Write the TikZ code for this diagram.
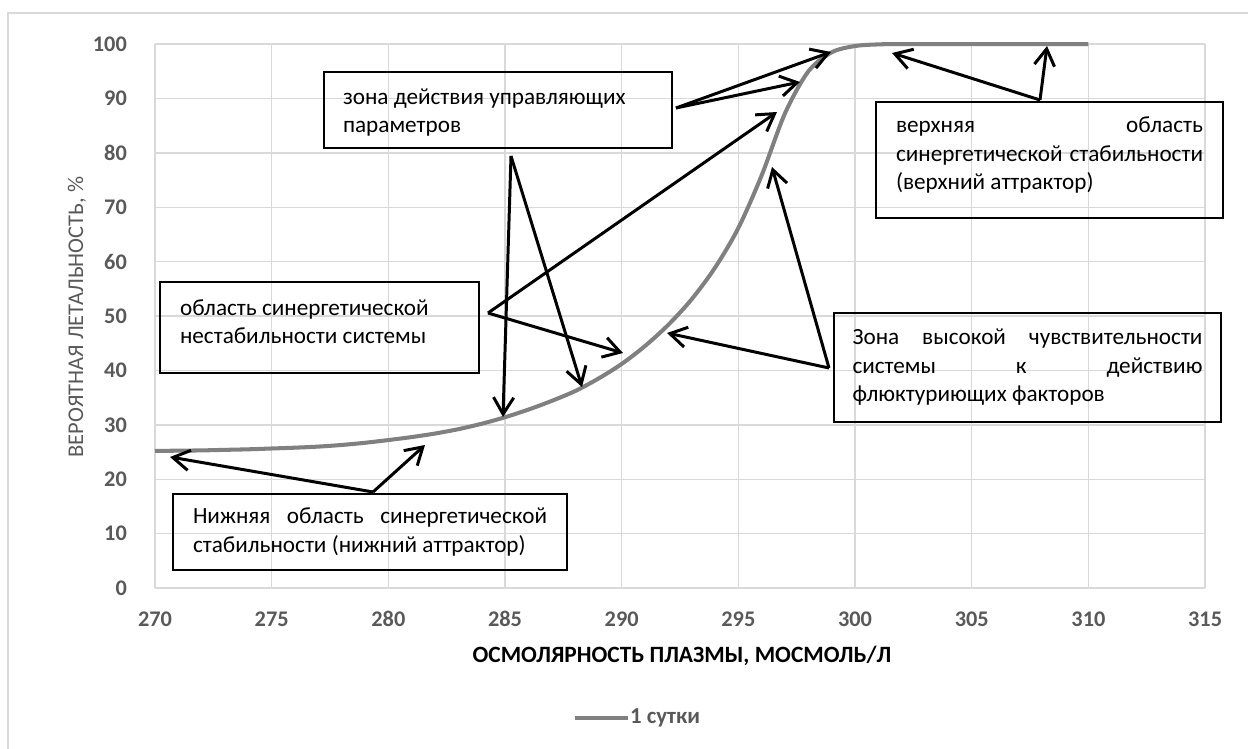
\documentclass[tikz,border=0pt]{standalone}
\usepackage{fontspec}
\setmainfont{Carlito}
\usetikzlibrary{arrows.meta}
\definecolor{gridgray}{HTML}{D9D9D9}
\definecolor{curvegray}{HTML}{808080}
\definecolor{labelgray}{HTML}{595959}
\tikzset{
  gridline/.style={draw=gridgray, line width=0.8pt},
  curve/.style={draw=curvegray, line width=2.3pt},
  box/.style={draw=black, line width=1.4pt},
  boxtext/.style={font=\fontsize{13.2}{16.2}\selectfont, inner sep=0pt, align=flush left},
  pointer/.style={line width=1.7pt, -{Straight Barb[length=9.5pt, width=11.5pt, line width=1.7pt]}},
  ticklabel/.style={font=\fontsize{12.7}{15}\selectfont\bfseries, text=labelgray},
}

\begin{document}
\begin{tikzpicture}[x=0.02cm, y=-0.02cm]
  \useasboundingbox (0,0) rectangle (1248,749);
  \draw[draw=gridgray, line width=1.2pt] (8,749) -- (8,13) -- (1248,13);

  \begin{scope}[shift={(155,588)}, x=0.4668cm, y=0.1088cm]
    \foreach \v in {0,10,...,100} {
      \draw[gridline] (0,\v) -- (45,\v);
      \node[ticklabel, anchor=east] (y\v) at (-0.94,\v) {\v};
    }
    \foreach \u in {0,5,...,45} {
      \pgfmathtruncatemacro{\lbl}{270+\u}
      \draw[gridline] (\u,0) -- (\u,100);
      \node[ticklabel] (x\u) at (\u,-5.7) {\lbl};
    }
    \draw[curve] plot[smooth, tension=0.5] coordinates {(0,25.2) (1,25.25) (2,25.3) (3,25.4) (4,25.5) (5,25.65) (6,25.8) (7,26.0) (8,26.3) (9,26.7) (10,27.2) (11,27.75) (12,28.4) (13,29.2) (14,30.2) (15,31.4) (16,32.8) (17,34.4) (18,36.2) (19,38.5) (20,41.2) (21,44.5) (22,48.4) (23,53.1) (24,58.9) (25,66.2) (26,75.9) (27,87.3) (28,95.0) (29,98.5) (30,99.65) (31,99.95) (32,100) (36,100) (40,100)};
  \end{scope}

  \node[font=\fontsize{13.3}{16}\selectfont\bfseries] (xtitle) at (682,656) {ОСМОЛЯРНОСТЬ ПЛАЗМЫ, МОСМОЛЬ/Л};
  \node[font=\fontsize{12.8}{16}\selectfont, text=labelgray, rotate=90] (ytitle) at (77,317) {ВЕРОЯТНАЯ ЛЕТАЛЬНОСТЬ, \%};

  \coordinate (legA) at (575,718);
  \node[anchor=west, font=\fontsize{13}{16}\selectfont\bfseries, text=labelgray, inner sep=1pt] (legend) at (628,718) {1 сутки};
  \draw[curve] (legA) -- (legend.west);

  \draw[box] (324,72) rectangle (672,148) node[pos=.5, boxtext, text width=6.2cm, yshift=-0.05cm] (upr) {зона действия управляющих\\параметров};
  \draw[box] (160,282) rectangle (479,373) node[pos=.5, boxtext, text width=5.58cm, yshift=0.12cm] (nestab) {область синергетической\\нестабильности системы};
  \draw[box] (173,494) rectangle (567,570) node[pos=.5, boxtext, text width=7.08cm] (nizh) {\makebox[7.08cm][s]{Нижняя область синергетической}\\стабильности (нижний аттрактор)};
  \draw[box] (876,102) rectangle (1223,218) node[pos=.5, boxtext, text width=6.14cm, yshift=0.1cm] (verkh) {\makebox[6.14cm][s]{верхняя область}\\\makebox[6.14cm][s]{синергетической стабильности}\\(верхний аттрактор)};
  \draw[box] (834,313) rectangle (1221,422) node[pos=.5, boxtext, text width=7cm] (chuv) {\makebox[7cm][s]{Зона высокой чувствительности}\\\makebox[7cm][s]{системы к действию}\\флюктуриющих факторов};

  \coordinate (nizhT) at (373,492);
  \coordinate (nizhA) at (170,457);
  \coordinate (nizhB) at (425,445);
  \coordinate (nestabT) at (488,313);
  \coordinate (nestabA) at (777,112);
  \coordinate (nestabB) at (623,353);
  \coordinate (uprT) at (676,108);
  \coordinate (uprA) at (831,52);
  \coordinate (uprB) at (800,82);
  \coordinate (uprS) at (511,156);
  \coordinate (uprC) at (503,417);
  \coordinate (uprD) at (582,387);
  \coordinate (chuvT) at (829,368);
  \coordinate (chuvA) at (667,333);
  \coordinate (chuvB) at (772,167);
  \coordinate (verkhT) at (1040,100);
  \coordinate (verkhA) at (892,53);
  \coordinate (verkhB) at (1047,46);

  \draw[pointer] (nizhT) -- (nizhA);
  \draw[pointer] (nizhT) -- (nizhB);
  \draw[pointer] (nestabT) -- (nestabA);
  \draw[pointer] (nestabT) -- (nestabB);
  \draw[pointer] (uprT) -- (uprA);
  \draw[pointer] (uprT) -- (uprB);
  \draw[pointer] (uprS) -- (uprC);
  \draw[pointer] (uprS) -- (uprD);
  \draw[pointer] (chuvT) -- (chuvA);
  \draw[pointer] (chuvT) -- (chuvB);
  \draw[pointer] (verkhT) -- (verkhA);
  \draw[pointer] (verkhT) -- (verkhB);
\end{tikzpicture}
\end{document}
